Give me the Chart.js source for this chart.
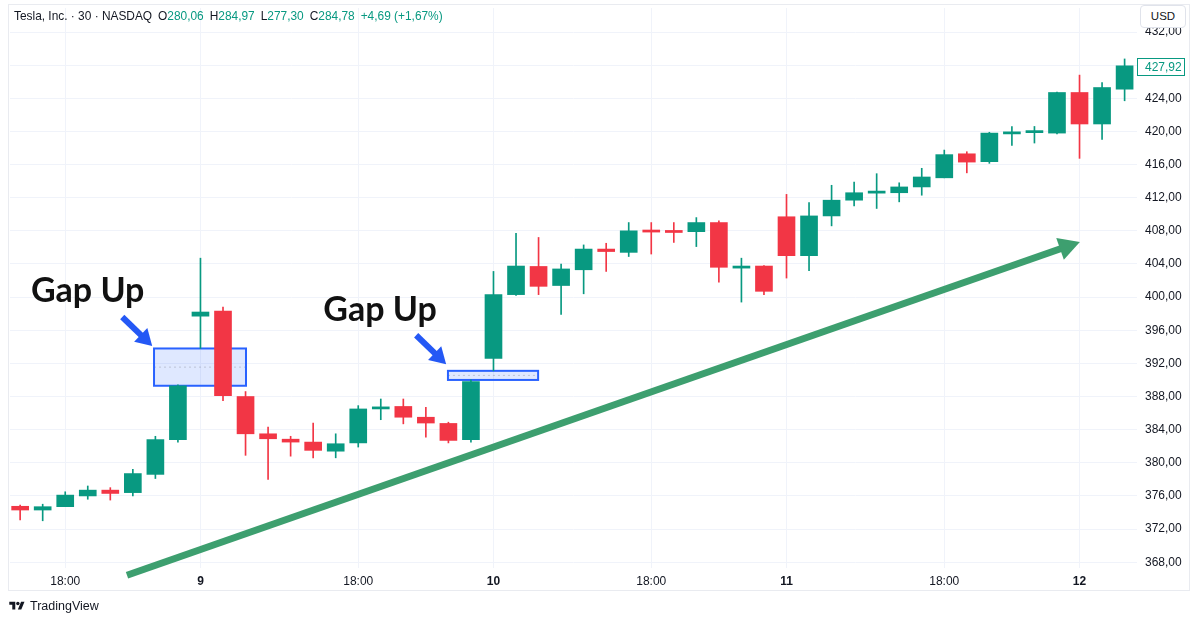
<!DOCTYPE html>
<html>
<head>
<meta charset="utf-8">
<script src="https://cdn.jsdelivr.net/npm/chart.js@4.4.0/dist/chart.umd.min.js"></script>
<style>
  html, body { margin: 0; padding: 0; background: #fff; }
  #wrap { position: relative; width: 1200px; height: 623px; overflow: hidden; font-family: "Liberation Sans", Arial, sans-serif; }
  #frame { position: absolute; left: 8px; top: 4px; width: 1182px; height: 587px; border: 1px solid #e9ebf0; box-sizing: border-box; }
  canvas { position: absolute; left: 0; top: 0; }
  #legend { position: absolute; left: 14px; top: 9px; font-size: 11.9px; color: #131722; white-space: nowrap; }
  #legend .g { color: #089981; }
  #legend .k { margin-left: 6px; }
  #usd { position: absolute; left: 1140px; top: 5px; width: 46px; height: 23px; border: 1px solid #e0e3eb; border-radius: 4px;
         background: #fff; box-sizing: border-box; font-size: 11.5px; color: #131722; text-align: center; line-height: 21px; }
  #brand { position: absolute; left: 9px; top: 599px; font-size: 12.5px; color: #131722; display: flex; align-items: center; }
  #brand svg { margin-right: 5px; }
</style>
</head>
<body>
<div id="wrap">
  <div id="frame"></div>
  <canvas id="chart" width="1200" height="623"></canvas>
  <div id="legend">Tesla, Inc. · 30 · NASDAQ<span class="k">O</span><span class="g">280,06</span><span class="k">H</span><span class="g">284,97</span><span class="k">L</span><span class="g">277,30</span><span class="k">C</span><span class="g">284,78</span><span class="k g">+4,69 (+1,67%)</span></div>
  <div id="usd">USD</div>
  <div id="brand"><svg width="16" height="12" viewBox="0 0 36 28"><path fill="#131722" d="M14 22H7V11H0V4h14v18zM28 22h-8l7.5-18h8L28 22z"/><circle fill="#131722" cx="20" cy="8" r="4"/></svg>TradingView</div>
</div>
<script>
// 30 min candles, one entry per bar
const opens  = [374.75, 374.3, 374.7, 376.0, 376.7, 376.4, 378.6, 382.8, 397.7, 398.3,
                388.0, 383.5, 382.85, 382.5, 381.4, 382.4, 386.5, 386.8, 385.5, 384.75,
                382.8, 392.6, 400.3, 403.7, 401.4, 403.3, 405.8, 405.4, 408.1, 408.05,
                407.9, 409.0, 403.5, 403.75, 409.7, 405.0, 409.8, 411.7, 412.55, 412.6,
                413.3, 414.4, 417.3, 416.35, 419.7, 419.85, 419.8, 424.7, 420.9, 425.1];
const highs  = [374.9, 375.0, 376.5, 377.2, 377.0, 379.2, 383.2, 389.4, 404.7, 398.8,
                388.6, 384.3, 383.2, 384.8, 383.5, 386.9, 387.7, 387.7, 386.7, 384.9,
                390.0, 403.1, 407.7, 407.2, 404.0, 406.3, 406.5, 409.0, 409.0, 409.0,
                409.6, 409.2, 404.7, 403.8, 412.4, 411.4, 413.5, 413.9, 414.9, 413.8,
                415.55, 417.75, 417.55, 419.9, 420.6, 420.6, 424.75, 426.8, 425.9, 428.75];
const lows   = [373.1, 373.0, 374.7, 375.6, 375.5, 376.0, 378.1, 382.5, 393.8, 387.5,
                380.9, 378.0, 380.8, 380.6, 380.6, 381.9, 385.2, 384.7, 383.1, 382.4,
                382.5, 391.1, 400.2, 400.3, 397.9, 400.4, 403.1, 404.9, 405.2, 406.6,
                406.1, 401.8, 399.4, 400.3, 402.3, 403.2, 408.6, 411.0, 410.7, 411.5,
                412.3, 414.4, 415.0, 416.15, 418.3, 418.6, 419.7, 416.75, 419.05, 423.7];
const closes = [374.3, 374.7, 376.1, 376.7, 376.3, 378.7, 382.8, 389.3, 398.2, 388.1,
                383.5, 382.9, 382.5, 381.5, 382.3, 386.5, 386.75, 385.5, 384.8, 382.7,
                389.8, 400.3, 403.75, 401.3, 403.4, 405.8, 405.5, 408.0, 407.85, 407.8,
                409.0, 403.6, 403.75, 400.7, 405.0, 409.8, 411.7, 412.6, 412.8, 413.3,
                414.5, 417.2, 416.3, 419.8, 419.95, 420.1, 424.7, 420.9, 425.3, 427.92];

const xTickIdx    = [2, 8, 15, 21, 28, 34, 41, 47];
const xTickLabels = ['18:00', '9', '18:00', '10', '18:00', '11', '18:00', '12'];
const yTicks = [368, 372, 376, 380, 384, 388, 392, 396, 400, 404, 408, 412, 416, 420, 424, 428, 432];

// drawings, in bar index / price units
const gapBoxes   = [[5.94, 10.02, 393.8, 389.3], [18.98, 22.98, 391.1, 390.0]];
const gapLabels  = ['Gap Up', 'Gap Up'];
const gapLabelX  = [0.48, 13.45];
const gapLabelY  = [399.4, 397.1];
const pointerFrom = [[4.53, 397.6], [17.57, 395.4]];
const pointerTo   = [[5.86, 394.1], [18.9, 391.9]];
const trendX = [4.74, 46.22];
const trendY = [366.43, 405.9];

const UP = '#089981', DOWN = '#F23645';
const FONT = '"Liberation Sans", Arial, sans-serif';
const candleColors = opens.map((o, i) => closes[i] >= o ? UP : DOWN);

function arrowHead(ctx, x0, y0, x1, y1, len, wid) {
  const a = Math.atan2(y1 - y0, x1 - x0);
  ctx.beginPath();
  ctx.moveTo(x1, y1);
  ctx.lineTo(x1 - len * Math.cos(a) + wid / 2 * Math.sin(a), y1 - len * Math.sin(a) - wid / 2 * Math.cos(a));
  ctx.lineTo(x1 - len * Math.cos(a) - wid / 2 * Math.sin(a), y1 - len * Math.sin(a) + wid / 2 * Math.cos(a));
  ctx.closePath();
  ctx.fill();
}

const drawings = {
  id: 'drawings',
  beforeDatasetsDraw(chart) {
    const { ctx, scales: { x, y } } = chart;
    ctx.save();
    gapBoxes.forEach(b => {
      const l = x.getPixelForValue(b[0]), r = x.getPixelForValue(b[1]);
      const t = y.getPixelForValue(b[2]), btm = y.getPixelForValue(b[3]);
      ctx.fillStyle = 'rgba(41, 98, 255, 0.15)';
      ctx.fillRect(l, t, r - l, btm - t);
      ctx.strokeStyle = 'rgba(120, 123, 134, 0.35)';
      ctx.lineWidth = 1;
      ctx.setLineDash([2, 3]);
      ctx.beginPath();
      ctx.moveTo(l, (t + btm) / 2);
      ctx.lineTo(r, (t + btm) / 2);
      ctx.stroke();
      ctx.setLineDash([]);
      ctx.strokeStyle = '#2962FF';
      ctx.lineWidth = 2;
      ctx.strokeRect(l, t, r - l, btm - t);
    });
    ctx.restore();
  },
  afterDatasetsDraw(chart) {
    const { ctx, chartArea, scales: { x, y } } = chart;
    ctx.save();
    // trend arrow head
    const tx0 = x.getPixelForValue(trendX[0]), ty0 = y.getPixelForValue(trendY[0]);
    const tx1 = x.getPixelForValue(trendX[1]), ty1 = y.getPixelForValue(trendY[1]);
    const a = Math.atan2(ty1 - ty0, tx1 - tx0);
    ctx.fillStyle = '#3d9f6f';
    arrowHead(ctx, tx0, ty0, tx1 + 19 * Math.cos(a), ty1 + 19 * Math.sin(a), 21, 23);

    // blue pointers
    ctx.fillStyle = ctx.strokeStyle = '#2458F5';
    pointerFrom.forEach((f, i) => {
      const x0 = x.getPixelForValue(f[0]), y0 = y.getPixelForValue(f[1]);
      const x1 = x.getPixelForValue(pointerTo[i][0]), y1 = y.getPixelForValue(pointerTo[i][1]);
      const ang = Math.atan2(y1 - y0, x1 - x0);
      ctx.lineWidth = 6;
      ctx.beginPath();
      ctx.moveTo(x0, y0);
      ctx.lineTo(x1 - 12 * Math.cos(ang), y1 - 12 * Math.sin(ang));
      ctx.stroke();
      arrowHead(ctx, x0, y0, x1, y1, 16, 19);
    });

    // labels
    ctx.fillStyle = '#111';
    ctx.font = 'bold 34px Lato';
    ctx.textBaseline = 'alphabetic';
    gapLabels.forEach((t, i) => {
      ctx.fillText(t, x.getPixelForValue(gapLabelX[i]), y.getPixelForValue(gapLabelY[i]));
    });

    // last price tag
    const last = closes[closes.length - 1];
    const py = Math.round(y.getPixelForValue(last)) + 0.5;
    ctx.fillStyle = '#fff';
    ctx.strokeStyle = UP;
    ctx.lineWidth = 1;
    ctx.fillRect(chartArea.right + 0.5, py - 8, 47, 17);
    ctx.strokeRect(chartArea.right + 0.5, py - 8, 47, 17);
    ctx.fillStyle = UP;
    ctx.font = '12px ' + FONT;
    ctx.textBaseline = 'middle';
    ctx.fillText(last.toFixed(2).replace('.', ','), chartArea.right + 8, py + 1);
    ctx.restore();
  }
};

const idx = opens.map((_, i) => i);

new Chart(document.getElementById('chart'), {
  type: 'bar',
  data: {
    datasets: [
      {
        label: 'trend',
        type: 'line',
        data: trendX.map((v, i) => ({ x: v, y: trendY[i] })),
        borderColor: '#3d9f6f',
        borderWidth: 7,
        borderCapStyle: 'butt',
        pointRadius: 0,
        clip: false,
        order: 3
      },
      {
        label: 'wicks',
        data: idx.map(i => ({ x: i, y: [lows[i], highs[i]] })),
        backgroundColor: candleColors,
        barThickness: 1,
        grouped: false,
        borderWidth: 0,
        order: 2
      },
      {
        label: 'bodies',
        data: idx.map(i => ({ x: i, y: [opens[i], closes[i]] })),
        backgroundColor: candleColors,
        barThickness: 17,
        grouped: false,
        borderWidth: 0,
        order: 1
      }
    ]
  },
  options: {
    responsive: false,
    animation: false,
    devicePixelRatio: 1,
    layout: { padding: { left: 10, right: 10, top: 8, bottom: 31 } },
    plugins: { legend: { display: false }, tooltip: { enabled: false } },
    scales: {
      x: {
        type: 'linear',
        min: -0.45,
        max: 49.55,
        offset: false,
        grid: { color: '#f0f3fa', drawTicks: false, offset: false },
        border: { display: false },
        afterBuildTicks: s => { s.ticks = xTickIdx.map(v => ({ value: v })); },
        afterFit: s => { s.height = 24; s.paddingLeft = 0; s.paddingRight = 0; },
        ticks: {
          autoSkip: false,
          maxRotation: 0,
          padding: 6,
          color: '#131722',
          font: c => ({ family: FONT, size: 12, weight: xTickLabels[c.index] && xTickLabels[c.index].includes(':') ? 'normal' : 'bold' }),
          callback: (v, i) => xTickLabels[i]
        }
      },
      y: {
        position: 'right',
        min: 367.3,
        max: 434.9,
        grid: { color: '#f0f3fa', drawTicks: false },
        border: { display: false },
        afterBuildTicks: s => { s.ticks = yTicks.map(v => ({ value: v })); },
        afterFit: s => { s.width = 53; s.paddingTop = 0; s.paddingBottom = 0; },
        ticks: {
          padding: 8,
          color: '#131722',
          font: { family: FONT, size: 12 },
          callback: v => v.toFixed(2).replace('.', ',')
        }
      }
    }
  },
  plugins: [drawings]
});
</script>
</body>
</html>
